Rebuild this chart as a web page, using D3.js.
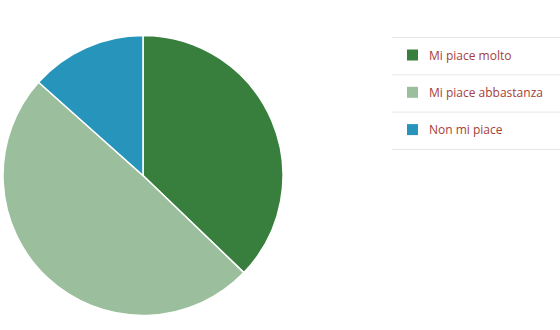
<!DOCTYPE html>
<html>
<head>
<meta charset="utf-8">
<script src="https://cdn.jsdelivr.net/npm/d3@7"></script>
<style>
  body { margin: 0; background: #fff; }
  svg { display: block; font-family: "Open Sans", sans-serif; }
</style>
</head>
<body>
<svg id="chart" width="560" height="330"></svg>
<script>
// Dati
const categorie = ['Mi piace molto', 'Mi piace abbastanza', 'Non mi piace'];
const valori = [37.2, 49.4, 13.4];
const colori = ['#387f3e', '#9bbf9c', '#2795bb'];

const svg = d3.select('#chart');

// Torta
const cx = 143, cy = 175.5, raggio = 140;
const g = svg.append('g').attr('transform', `translate(${cx},${cy})`);

const pie = d3.pie().sort(null).value(d => d);
const arc = d3.arc().innerRadius(0).outerRadius(raggio);

g.selectAll('path')
    .data(pie(valori))
    .enter()
    .append('path')
    .attr('d', arc)
    .attr('fill', (d, i) => colori[i])
    .attr('stroke', '#fff')
    .attr('stroke-width', 1.5);

// Legenda
const legend = svg.append('g').attr('transform', 'translate(392, 37)');
const rowH = 37.3;

legend.append('line')
    .attr('x1', 0).attr('x2', 168)
    .attr('y1', 0.5).attr('y2', 0.5)
    .style('stroke', '#e6e6e6');

categorie.forEach((nome, i) => {
    const item = legend.append('g').attr('transform', `translate(0, ${i * rowH})`);

    item.append('rect')
        .attr('x', 15).attr('y', 12.5)
        .attr('width', 11).attr('height', 11)
        .style('fill', colori[i]);

    item.append('text')
        .attr('x', 37).attr('y', 22.5)
        .style('font-size', '12px')
        .style('fill', '#a5403a')
        .text(nome);

    item.append('line')
        .attr('x1', 0).attr('x2', 168)
        .attr('y1', rowH + 0.5).attr('y2', rowH + 0.5)
        .style('stroke', '#e6e6e6');
});
</script>
</body>
</html>
